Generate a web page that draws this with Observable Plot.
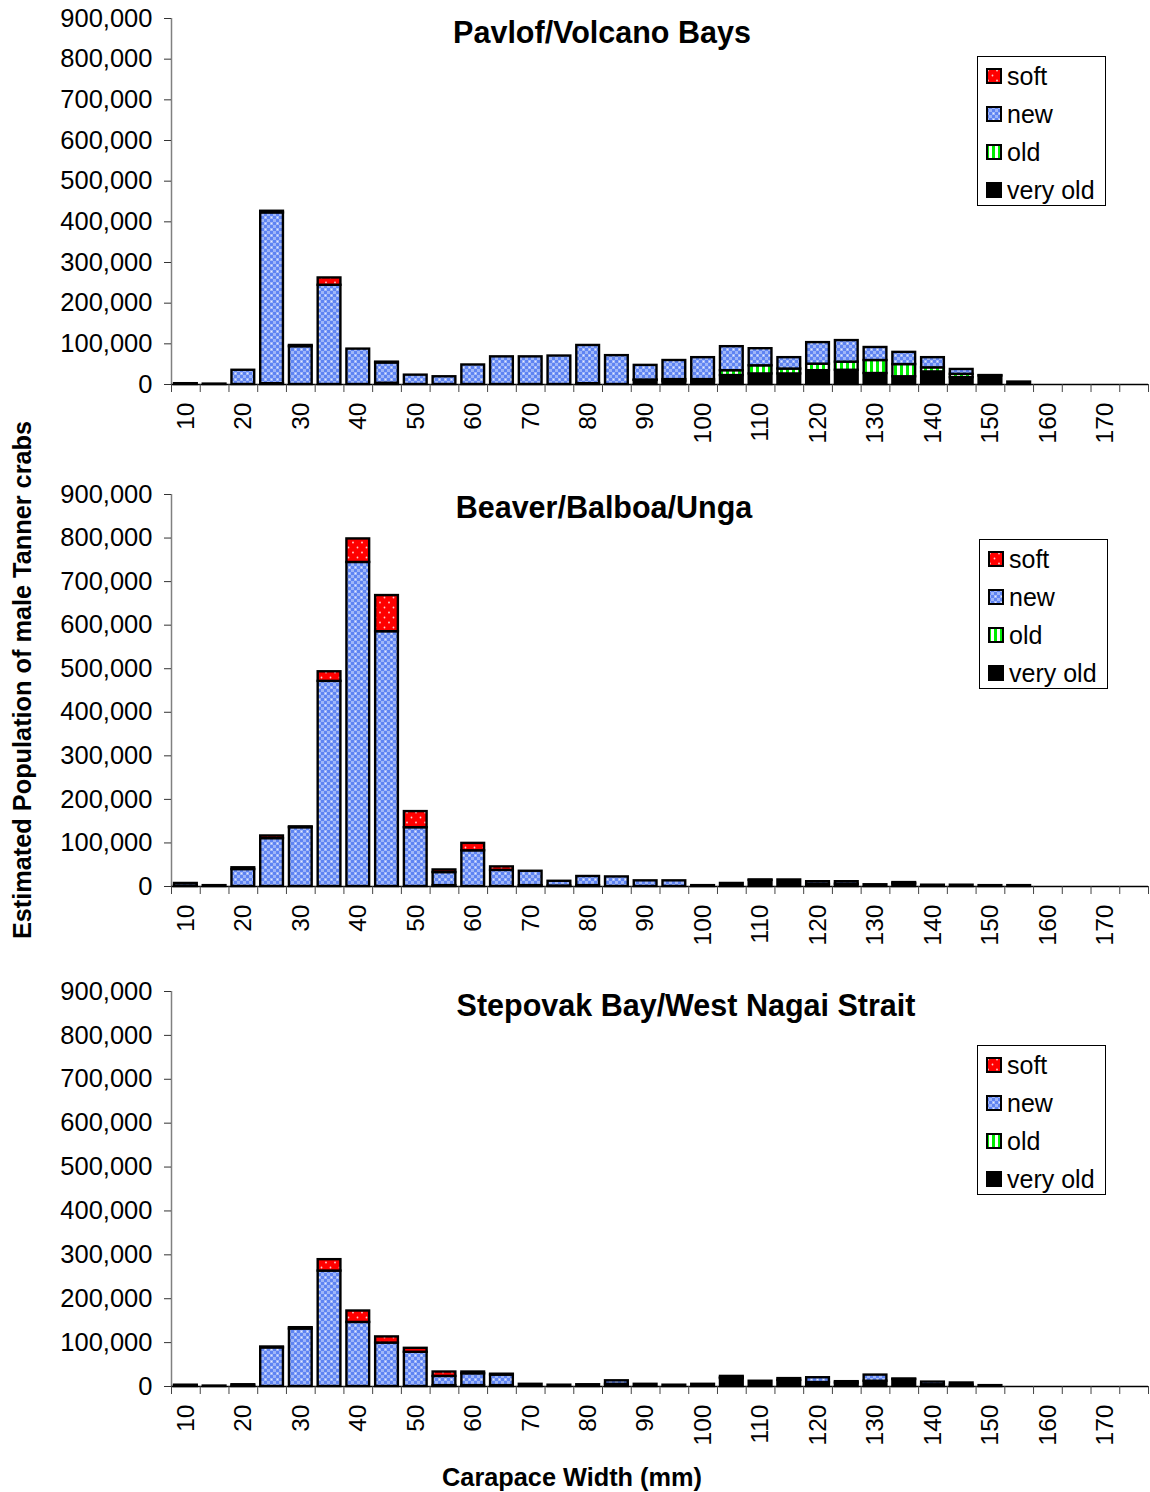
<!DOCTYPE html>
<html><head><meta charset="utf-8">
<script src="https://cdn.jsdelivr.net/npm/d3@7"></script>
<script src="https://cdn.jsdelivr.net/npm/@observablehq/plot@0.6"></script>
<style>
body{margin:0;background:#fff;font-family:"Liberation Sans",Arial,sans-serif;color:#000;}
#wrap{position:relative;width:1150px;height:1492px;overflow:hidden;}
.panel{position:absolute;left:0;}
.title{position:absolute;font-weight:bold;font-size:30.5px;line-height:1;transform:translateX(-50%);white-space:nowrap;}
.legend{position:absolute;border:1px solid #000;background:#fff;width:129px;height:150px;box-sizing:border-box;}
.legend .row{position:absolute;left:8px;height:26px;display:flex;align-items:center;font-size:25px;line-height:1;}
.legend svg{margin-right:5px;}
.ylab{position:absolute;left:22px;top:680px;transform:translate(-50%,-50%) rotate(-90deg);font-weight:bold;font-size:25.3px;white-space:nowrap;}
.xlab{position:absolute;left:572px;top:1477px;transform:translate(-50%,-50%);font-weight:bold;font-size:25.3px;white-space:nowrap;}
</style></head>
<body>
<svg width="0" height="0" style="position:absolute">
<defs>
<pattern id="p-soft" patternUnits="userSpaceOnUse" width="9" height="10">
<rect width="9" height="10" fill="#ff0000"/>
<circle cx="2" cy="2.5" r="0.9" fill="#ffd0d0"/>
<circle cx="6.5" cy="7.5" r="0.9" fill="#ffd0d0"/>
</pattern>
<pattern id="p-new" patternUnits="userSpaceOnUse" width="6" height="6">
<rect width="6" height="6" fill="#5f84f2"/>
<rect x="0" y="0" width="3" height="3" fill="#9fb6f8"/>
<rect x="3" y="3" width="3" height="3" fill="#9fb6f8"/>
<circle cx="1.5" cy="1.5" r="0.7" fill="#e6ecff"/>
</pattern>
<pattern id="p-old" patternUnits="userSpaceOnUse" width="6" height="6">
<rect width="6" height="6" fill="#ffffff"/>
<rect x="0" y="0" width="3" height="6" fill="#00ee00"/>
</pattern>
</defs>
</svg>
<div id="wrap"></div>
<script>
// ---- data ----
const bins = [10,15,20,25,30,35,40,45,50,55,60,65,70,75,80,85,90,95,100,105,110,115,120,125,130,135,140,145,150,155,160,165,170,175];
const labelTicks = [10,20,30,40,50,60,70,80,90,100,110,120,130,140,150,160,170];
const yTicks = [0,100000,200000,300000,400000,500000,600000,700000,800000,900000];
const stages = ["very old","old","new","soft"];
const legendStages = ["soft","new","old","very old"];
const stageFills = ["#000000","url(#p-old)","url(#p-new)","url(#p-soft)"];

const panelTitles = ["Pavlof/Volcano Bays","Beaver/Balboa/Unga","Stepovak Bay/West Nagai Strait"];

// Pavlof/Volcano Bays
const pavlofSoft =    [0,0,0,4000,3000,18000,0,2000,0,0,0,0,0,0,0,0,0,0,0,0,0,0,0,0,0,0,0,0,0,0,0,0,0,0];
const pavlofNew =     [2000,1000,35000,420000,93000,244000,87000,50000,23000,19000,48000,68000,68000,70000,94000,71000,36000,47000,54000,59000,42000,28000,53000,53000,32000,30000,25000,12000,0,0,0,0,0,0];
const pavlofOld =     [0,0,0,0,0,0,0,0,0,0,0,0,0,0,0,0,1000,5000,5000,12000,20000,12000,16000,20000,32000,30000,10000,8000,1000,0,0,0,0,0];
const pavlofVeryOld = [0,0,0,2000,0,0,0,3000,0,0,0,0,0,0,2000,0,10000,7000,7000,22000,26000,26000,34000,35000,27000,19000,31000,17000,21000,6000,0,0,0,0];

// Beaver/Balboa/Unga
const beaverSoft =    [0,0,4000,6000,2000,22000,54000,83000,37000,6000,17000,8000,0,0,0,0,0,0,0,0,1000,0,0,0,0,0,0,0,0,0,0,0,0,0];
const beaverNew =     [6000,2000,39000,110000,135000,471000,744000,585000,135000,30000,82000,37000,33000,11000,21000,22000,13000,13000,0,0,0,0,6000,6000,0,3000,0,0,0,0,0,0,0,0];
const beaverOld =     [0,0,0,0,0,0,0,0,0,0,0,0,0,0,0,0,0,0,0,0,0,0,0,0,0,0,0,0,0,0,0,0,0,0];
const beaverVeryOld = [1000,0,0,0,0,0,0,0,0,2000,0,0,2000,1000,2000,0,0,0,2000,7000,14000,15000,5000,5000,4000,6000,3000,3000,2000,2000,0,0,0,0];

// Stepovak Bay/West Nagai Strait
const stepovakSoft =    [0,0,0,2000,3000,26000,26000,14000,9000,10000,4000,2000,0,0,0,0,0,0,0,0,0,0,0,0,0,0,0,0,0,0,0,0,0,0];
const stepovakNew =     [2000,1000,3000,88000,131000,263000,146000,99000,78000,21000,27000,24000,0,0,0,8000,0,0,0,3000,0,4000,11000,3000,14000,1000,6000,5000,0,0,0,0,0,0];
const stepovakOld =     [0,0,0,0,0,0,0,0,0,0,0,0,0,0,0,0,0,0,0,2000,0,0,0,0,0,0,0,0,0,0,0,0,0,0];
const stepovakVeryOld = [1000,0,1000,0,0,0,0,0,0,2000,2000,2000,5000,3000,4000,5000,5000,3000,5000,18000,12000,14000,9000,8000,12000,16000,4000,3000,2000,0,0,0,0,0];

// ---- layout ----
const panels = [
  {series:[pavlofVeryOld,pavlofOld,pavlofNew,pavlofSoft], top:0, height:470, mt:18, mb:86,
   title:{x:602, y:17}, legend:{x:977, y:56}},
  {series:[beaverVeryOld,beaverOld,beaverNew,beaverSoft], top:470, height:500, mt:24, mb:84,
   title:{x:604, y:492}, legend:{x:979, y:539}},
  {series:[stepovakVeryOld,stepovakOld,stepovakNew,stepovakSoft], top:970, height:480, mt:21, mb:64,
   title:{x:686, y:990}, legend:{x:977, y:1045}}
];

const wrap = document.getElementById("wrap");
const half = 2.5;
const edges = bins.map(b => b - half).concat([bins[bins.length-1] + half]);

panels.forEach((p, pi) => {
  const rows = [];
  bins.forEach((b, i) => {
    stages.forEach((s, si) => {
      const v = p.series[si][i];
      if (v > 0) rows.push({bin: b, stage: s, value: v});
    });
  });
  const chart = Plot.plot({
    width: 1150, height: p.height,
    marginLeft: 171, marginRight: 2, marginTop: p.mt, marginBottom: p.mb,
    style: {fontFamily: "'Liberation Sans', Arial, sans-serif", color: "#000", background: "transparent"},
    x: {domain: [edges[0], edges[edges.length-1]], axis: null},
    y: {domain: [0, 900000], axis: null},
    color: {domain: stages, range: stageFills},
    marks: [
      Plot.rectY(rows, Plot.stackY({
        x1: d => d.bin - half, x2: d => d.bin + half, y: "value", fill: "stage",
        order: stages, insetLeft: 3, insetRight: 3, stroke: "#000", strokeWidth: 2.4
      })),
      Plot.ruleX([edges[0]], {stroke: "#808080", strokeWidth: 1.5}),
      Plot.ruleY([0], {stroke: "#000", strokeWidth: 1.5}),
      Plot.axisY({ticks: yTicks, tickFormat: d3.format(","), tickSize: 7, tickPadding: 12, fontSize: 25.5, label: null, stroke: "#333"}),
      Plot.axisX({ticks: edges, tickFormat: () => "", tickSize: 8, label: null, stroke: "#444"}),
      Plot.axisX({ticks: labelTicks, tickSize: 0, tickPadding: 18, tickRotate: -90, fontSize: 24.5, label: null})
    ]
  });
  chart.classList.add("panel");
  chart.style.top = p.top + "px";
  wrap.appendChild(chart);

  const t = document.createElement("div");
  t.className = "title";
  t.textContent = panelTitles[pi];
  t.style.left = p.title.x + "px";
  t.style.top = p.title.y + "px";
  wrap.appendChild(t);

  const lg = document.createElement("div");
  lg.className = "legend";
  lg.style.left = p.legend.x + "px";
  lg.style.top = p.legend.y + "px";
  legendStages.forEach((s, k) => {
    const row = document.createElement("div");
    row.className = "row";
    row.style.top = (6 + k * 38) + "px";
    const fill = stageFills[stages.indexOf(s)];
    row.innerHTML = `<svg width="16" height="16"><rect x="1" y="1" width="14" height="14" fill="${fill}" stroke="#000" stroke-width="2"/></svg><span>${s}</span>`;
    lg.appendChild(row);
  });
  wrap.appendChild(lg);
});

const yl = document.createElement("div");
yl.className = "ylab";
yl.textContent = "Estimated Population of male Tanner crabs";
wrap.appendChild(yl);
const xl = document.createElement("div");
xl.className = "xlab";
xl.textContent = "Carapace Width (mm)";
wrap.appendChild(xl);
</script>
</body></html>
